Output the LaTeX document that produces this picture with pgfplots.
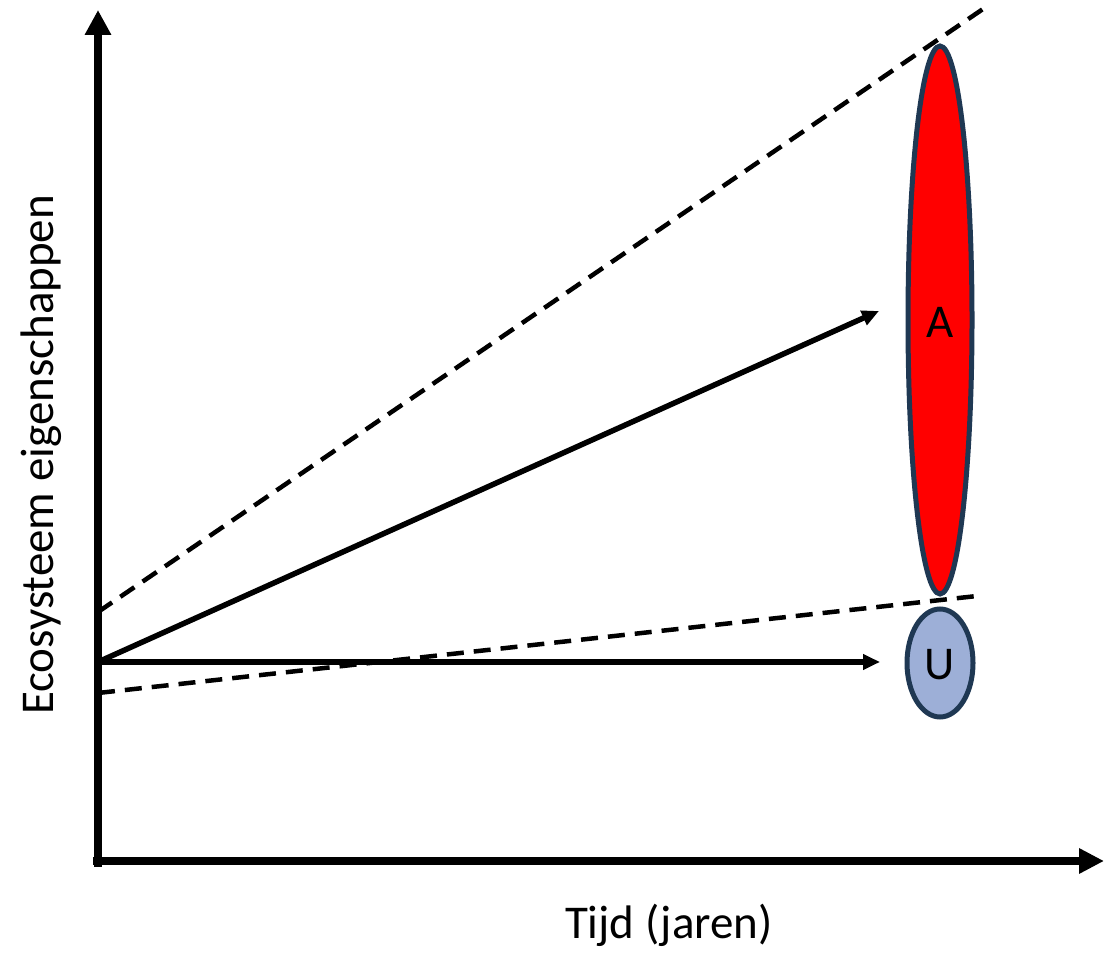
\documentclass[border=0pt]{standalone}
\usepackage{pgfplots}
\pgfplotsset{compat=1.18}
\usetikzlibrary{arrows.meta}
\usepackage{fontspec}
\setmainfont{Carlito}
\definecolor{navy}{HTML}{1F3853}
\definecolor{lblue}{HTML}{9DAFD7}
\begin{document}
\begin{tikzpicture}
\begin{axis}[
  width=1119bp, height=954bp, scale only axis,
  xmin=0, xmax=1119, ymin=0, ymax=954,
  hide axis, clip=false]
\path (axis cs:0,0) rectangle (axis cs:1119,954);
% dashed envelope lines
\addplot[black, line width=4.5bp, dash pattern=on 17bp off 10bp] coordinates {(98,342) (983,945)};
\addplot[black, line width=4.5bp, dash pattern=on 17bp off 10bp] coordinates {(98,261) (977,358)};
% solid arrows
\addplot[black, line width=5.5bp, -{Triangle[length=17bp,width=15bp]}] coordinates {(98,292) (879,643)};
\addplot[black, line width=5.5bp, -{Triangle[length=17bp,width=15bp]}] coordinates {(98,292) (880,292)};
% ellipses
\draw[navy, line width=5bp, fill=red] (axis cs:940,634) ellipse [x radius=32, y radius=274];
\draw[navy, line width=5bp, fill=lblue] (axis cs:940,291) ellipse [x radius=33, y radius=54];
\node[font=\fontsize{47bp}{56bp}\selectfont] at (axis cs:940,632) {A};
\node[font=\fontsize{47bp}{56bp}\selectfont] at (axis cs:940,289) {U};
% main axes
\addplot[black, line width=8.5bp, -{Triangle[length=25bp,width=25bp]}] coordinates {(98,87) (98,944)};
\addplot[black, line width=7.5bp, -{Triangle[length=25bp,width=24bp]}] coordinates {(93,93) (1104,93)};
% labels
\node[font=\fontsize{47bp}{56bp}\selectfont] at (axis cs:669,29) {Tijd (jaren)};
\node[font=\fontsize{47bp}{56bp}\selectfont, rotate=90] at (axis cs:41,499) {Ecosysteem eigenschappen};
\end{axis}
\end{tikzpicture}
\end{document}
